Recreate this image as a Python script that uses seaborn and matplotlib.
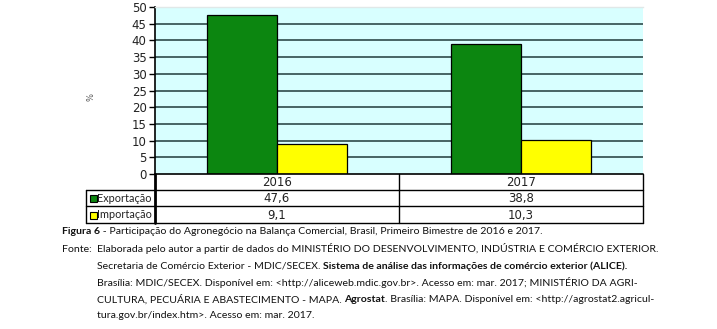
import matplotlib
matplotlib.use("Agg")
import matplotlib.pyplot as plt
import seaborn as sns
import pandas as pd
from matplotlib.lines import Line2D
from matplotlib.patches import Rectangle

# ---- data ----
years = ["2016", "2017"]
series = ["Exportação", "Importação"]
exportacao = [47.6, 38.8]
importacao = [9.1, 10.3]
yticks = list(range(0, 55, 5))
colors = ["#0C8610", "#FFFF00"]

df = pd.DataFrame({
    "ano": years * 2,
    "serie": [series[0]] * 2 + [series[1]] * 2,
    "valor": exportacao + importacao,
})

sns.set_theme(style="white")
plt.rcParams["font.family"] = ["DejaVu Sans"]

W, H = 717, 329
fig = plt.figure(figsize=(W / 100, H / 100), dpi=100)
fig.patch.set_facecolor("white")

def fx(x):
    return x / W

def fy(y):
    return 1 - y / H

L, R, T, B = 155, 643, 7, 174
ax = fig.add_axes([fx(L), fy(B), fx(R) - fx(L), fy(T) - fy(B)])
ax.set_facecolor("#D8FFFF")

sns.barplot(data=df, x="ano", y="valor", hue="serie", palette=colors,
            saturation=1, width=0.574, gap=0, edgecolor="black", linewidth=0.9,
            legend=False, ax=ax, zorder=3)

ax.set_ylim(0, 50)
ax.set_xlim(-0.5, 1.5)
ax.set_yticks(yticks)
ax.set_yticklabels([str(t) for t in yticks], fontsize=8.5, color="#222222")
for t in yticks[1:-1]:
    ax.axhline(t, color="#1F3A3A", linewidth=1.1, zorder=1)
ax.set_xticks([])
ax.set_xlabel("")
ax.set_ylabel("")
ax.tick_params(axis="y", direction="out", length=4, width=1, color="black", pad=2, left=True)
for s in ["right", "bottom"]:
    ax.spines[s].set_visible(False)
ax.spines["left"].set_color("black")
ax.spines["left"].set_linewidth(1.2)
ax.spines["top"].set_color("#E0E8E8")
ax.spines["top"].set_linewidth(1)

fig.text(fx(91), fy(97), "%", rotation=90, fontsize=6, color="#555555",
         ha="center", va="center")

fig.canvas.draw()
renderer = fig.canvas.get_renderer()

def fit_size(txt, target_w, base=10.0, **kw):
    t = fig.text(0, 0, txt, fontsize=base, **kw)
    w = t.get_window_extent(renderer=renderer).width
    t.remove()
    return base * target_w / w

# ---- data table below the chart ----
def hline(x0, x1, y, lw=1.0):
    fig.add_artist(Line2D([fx(x0), fx(x1)], [fy(y), fy(y)], color="black",
                          linewidth=lw, transform=fig.transFigure))

def vline(x, y0, y1, lw=1.0):
    fig.add_artist(Line2D([fx(x), fx(x)], [fy(y0), fy(y1)], color="black",
                          linewidth=lw, transform=fig.transFigure))

LL = 86
MID = 399
hline(L, R, 174, 1.2)
hline(LL, R, 190)
hline(LL, R, 206)
hline(LL, R, 223)
vline(L, 174, 223, 2.0)
vline(MID, 174, 223)
vline(R, 174, 223)
vline(LL, 190, 223)

col_centers = [(L + MID) / 2, (MID + R) / 2]
fs = 8.5
for i, yr in enumerate(years):
    fig.text(fx(col_centers[i]), fy(182.5), yr, ha="center", va="center",
             fontsize=fs, color="#222222")
    fig.text(fx(col_centers[i]), fy(198.5), f"{exportacao[i]:.1f}".replace(".", ","),
             ha="center", va="center", fontsize=fs, color="#222222")
    fig.text(fx(col_centers[i]), fy(215), f"{importacao[i]:.1f}".replace(".", ","),
             ha="center", va="center", fontsize=fs, color="#222222")

narrow = ["Lato", "DejaVu Sans"]
lab_fs = fit_size(series[0], 54, family=narrow)
for j, (name, c) in enumerate(zip(series, colors)):
    yc = [198.5, 215][j]
    fig.add_artist(Rectangle((fx(89.5), fy(yc + 3.5)), fx(7), fy(0) - fy(7),
                             facecolor=c, edgecolor="black", linewidth=0.8,
                             transform=fig.transFigure))
    fig.text(fx(97.5), fy(yc), name, ha="left", va="center", fontsize=lab_fs,
             family=narrow, color="#222222")

# ---- caption ----
x0 = 62
x1 = 97
cfs = fit_size("Elaborada pelo autor a partir de dados do MINISTÉRIO DO DESENVOLVIMENTO, INDÚSTRIA E COMÉRCIO EXTERIOR.",
               557, family=narrow)
lines = [
    (x0, 232, [("Figura 6", "bold"), (" - Participação do Agronegócio na Balança Comercial, Brasil, Primeiro Bimestre de 2016 e 2017.", "normal")]),
    (x0, 249, [("Fonte:", "normal")]),
    (x1, 249, [("Elaborada pelo autor a partir de dados do MINISTÉRIO DO DESENVOLVIMENTO, INDÚSTRIA E COMÉRCIO EXTERIOR.", "normal")]),
    (x1, 266, [("Secretaria de Comércio Exterior - MDIC/SECEX. ", "normal"), ("Sistema de análise das informações de comércio exterior (ALICE).", "bold")]),
    (x1, 283, [("Brasília: MDIC/SECEX. Disponível em: <http://aliceweb.mdic.gov.br>. Acesso em: mar. 2017; MINISTÉRIO DA AGRI-", "normal")]),
    (x1, 300, [("CULTURA, PECUÁRIA E ABASTECIMENTO - MAPA. ", "normal"), ("Agrostat", "bold"), (". Brasília: MAPA. Disponível em: <http://agrostat2.agricul-", "normal")]),
    (x1, 316, [("tura.gov.br/index.htm>. Acesso em: mar. 2017.", "normal")]),
]

for xs, ys, parts in lines:
    xpos = xs
    for txt, wt in parts:
        t = fig.text(fx(xpos), fy(ys), txt, ha="left", va="center", fontsize=cfs,
                     fontweight=wt, family=narrow, color="#111111")
        bb = t.get_window_extent(renderer=renderer)
        xpos += bb.width

fig.savefig("out.png", dpi=100, facecolor="white")
